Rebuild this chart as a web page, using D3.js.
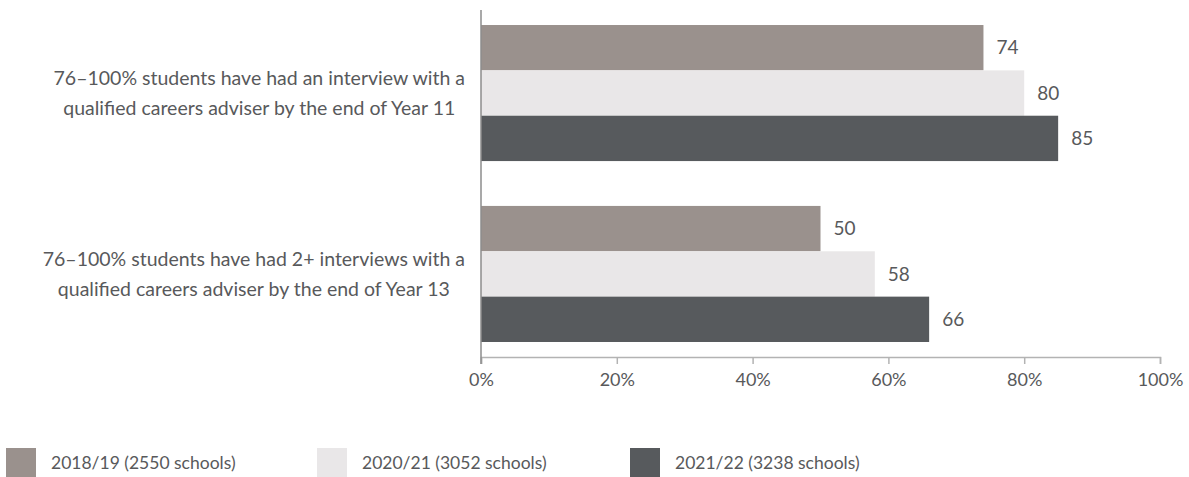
<!DOCTYPE html>
<html>
<head>
<meta charset="utf-8">
<script src="https://cdn.jsdelivr.net/npm/d3@7"></script>
<style>
  html, body { margin: 0; padding: 0; background: #fff; }
  svg { display: block; }
  text { font-family: "Lato", "Open Sans", sans-serif; fill: #58595b; }
</style>
</head>
<body>
<svg id="chart" width="1189" height="477"></svg>
<script>
// Careers interviews by survey year
const categories = [
  ["76\u2013100% students have had an interview with a", "qualified careers adviser by the end of Year 11"],
  ["76\u2013100% students have had 2+ interviews with a", "qualified careers adviser by the end of Year 13"]
];
const seriesNames = ["2018/19 (2550 schools)", "2020/21 (3052 schools)", "2021/22 (3238 schools)"];
const seriesColors = ["#9a918d", "#e9e7e8", "#575a5d"];
const values2018 = [74, 50];
const values2020 = [80, 58];
const values2021 = [85, 66];
const tickValues = [0, 20, 40, 60, 80, 100];

const seriesValues = [values2018, values2020, values2021];

const svg = d3.select("#chart");
const plotLeft = 481, plotRight = 1160, plotTop = 10, plotBottom = 357;
const labelRight = 465;

const x = d3.scaleLinear().domain([0, 100]).range([plotLeft, plotRight]);
const y0 = d3.scaleBand()
  .domain(d3.range(categories.length))
  .range([plotTop, plotBottom])
  .paddingInner(0.248)
  .paddingOuter(0.083);
const y1 = d3.scaleBand()
  .domain(d3.range(seriesNames.length))
  .range([0, y0.bandwidth()]);

// Bars
const groups = svg.selectAll("g.group")
  .data(categories.map((c, i) => i))
  .join("g")
  .attr("class", "group")
  .attr("transform", i => `translate(0,${y0(i)})`);

groups.selectAll("rect")
  .data(i => seriesValues.map((vals, s) => ({ s, v: vals[i] })))
  .join("rect")
  .attr("x", x(0))
  .attr("y", d => y1(d.s))
  .attr("width", d => x(d.v) - x(0))
  .attr("height", y1.bandwidth())
  .attr("fill", d => seriesColors[d.s]);

groups.selectAll("text.val")
  .data(i => seriesValues.map((vals, s) => ({ s, v: vals[i] })))
  .join("text")
  .attr("class", "val")
  .attr("x", d => x(d.v) + 13)
  .attr("y", d => y1(d.s) + y1.bandwidth() / 2)
  .attr("dy", "0.35em")
  .attr("font-size", 19)
  .text(d => d.v);

// Category labels: two centred lines, block ending at labelRight
groups.each(function (i) {
  const g = d3.select(this);
  const first = g.append("text")
    .attr("text-anchor", "middle")
    .attr("font-size", 19.5)
    .attr("y", y0.bandwidth() / 2)
    .attr("dy", "-0.42em")
    .text(categories[i][0]);
  const w = first.node().getComputedTextLength();
  const cx = labelRight - w / 2;
  first.attr("x", cx);
  g.append("text")
    .attr("text-anchor", "middle")
    .attr("font-size", 19.5)
    .attr("x", cx)
    .attr("y", y0.bandwidth() / 2)
    .attr("dy", "1.12em")
    .text(categories[i][1]);
});

// X axis
const xAxis = d3.axisBottom(x)
  .tickValues(tickValues)
  .tickFormat(d => d + "%")
  .tickSize(7)
  .tickPadding(9);
const gx = svg.append("g").attr("transform", `translate(0,${plotBottom})`).call(xAxis);
gx.select(".domain").attr("stroke", "#b3b3b3").attr("stroke-width", 1.5);
gx.selectAll(".tick line").attr("stroke", "#b3b3b3").attr("stroke-width", 1.5);
gx.selectAll(".tick text")
  .attr("font-size", 18)
  .attr("font-family", "Lato, 'Open Sans', sans-serif")
  .attr("fill", "#58595b");

// Vertical category axis line
svg.append("line")
  .attr("x1", x(0)).attr("x2", x(0))
  .attr("y1", plotTop).attr("y2", plotBottom + 7)
  .attr("stroke", "#8c8c8c")
  .attr("stroke-width", 1.5);

// Legend
const legendX = [6, 317, 630];
const legend = svg.selectAll("g.legend")
  .data(seriesNames)
  .join("g")
  .attr("class", "legend")
  .attr("transform", (d, i) => `translate(${legendX[i]},448)`);
legend.append("rect")
  .attr("width", 30).attr("height", 30)
  .attr("fill", (d, i) => seriesColors[i]);
legend.append("text")
  .attr("x", 45)
  .attr("y", 21)
  .attr("font-size", 17.5)
  .text(d => d);
</script>
</body>
</html>
